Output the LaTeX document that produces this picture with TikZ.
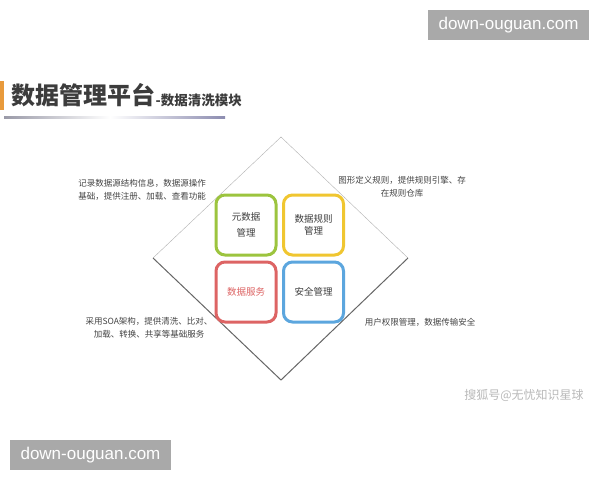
\documentclass[tikz,border=0pt]{standalone}
\usepackage{fontspec}
\setmainfont{Noto Sans CJK SC}
\newfontfamily\wmfont{Liberation Sans}
\usepackage{xcolor}
\usetikzlibrary{calc}

\definecolor{boxgreen}{HTML}{9CC43E}
\definecolor{boxyellow}{HTML}{F0C630}
\definecolor{boxred}{HTML}{DD6464}
\definecolor{boxblue}{HTML}{5CA6DE}
\definecolor{titlegray}{HTML}{3C3C3C}
\definecolor{textgray}{HTML}{444444}
\definecolor{barorange}{HTML}{E89A3C}
\definecolor{wmgray}{HTML}{A9A9A9}
\definecolor{linegray}{HTML}{9A9AA8}
\definecolor{lineblue}{HTML}{8C8CB0}

\begin{document}
\begin{tikzpicture}[x=1pt, y=-1pt]%%cleaning module
        \tikzstyle{module} = [draw, rounded corners=9pt, line width=3pt, minimum width=60pt, minimum height=60pt, align=center, text=titlegray, font=\fontsize{9.5}{12}\selectfont]
        \tikzstyle{note} = [align=center, text=textgray, font=\fontsize{8.5}{13}\selectfont]
        \tikzstyle{wmbox} = [fill=wmgray, text=white, minimum width=161pt, minimum height=30pt, inner sep=0pt, font=\wmfont\fontsize{17}{17}\selectfont]
        \useasboundingbox (0,0) rectangle (600,480);
        \fill[white] (0,0) rectangle (600,480);
        % title
        \fill[barorange] (0,81) rectangle (4,110);
        \shade[left color=linegray, right color=white] (4,116) rectangle (110,118);
        \shade[left color=white, right color=lineblue] (110,116) rectangle (225,118);
        \node[anchor=west, inner sep=0pt, text=titlegray, font=\fontsize{24}{24}\selectfont\bfseries] (title) at (11,95) {数据管理平台};
        \node[anchor=west, inner sep=0pt, text=titlegray, font=\fontsize{13.5}{14}\selectfont\bfseries] (subtitle) at (title.east |- 0,100) {-数据清洗模块};
        % diamond
        \coordinate (top) at (281,137);
        \coordinate (left) at (153,258);
        \coordinate (right) at (408,258);
        \coordinate (bottom) at (281,380);
        \draw[gray!60] (left) -- (top) -- (right);
        \draw[gray!80!black, line width=1pt] (left) -- (bottom) -- (right);
        % modules
        \node [module, draw=boxgreen] (meta) at (246,225) {元数据\\[4pt]管理};
        \node [module, draw=boxyellow] (rule) at (313.5,225) {数据规则\\管理};
        \node [module, draw=boxred, text=boxred] (serv) at (246,292) {数据服务};
        \node [module, draw=boxblue] (safe) at (313.5,292) {安全管理};
        % notes
        \node [note] (metanote) at (142,189.5) {记录数据源结构信息，数据源操作\\基础，提供注册、加载、查看功能};
        \node [note] (rulenote) at (402,186.5) {图形定义规则，提供规则引擎、存\\在规则仓库};
        \node [note] (servnote) at (149,327.5) {采用SOA架构，提供清洗、比对、\\加载、转换、共享等基础服务};
        \node [note] (safenote) at (420,322) {用户权限管理，数据传输安全};
        % watermarks
        \node [wmbox] (wmtop) at (508.5,25) {down-ouguan.com};
        \node [wmbox] (wmbottom) at (90.5,455) {down-ouguan.com};
        \node [text=gray!55, font=\fontsize{12}{12}\selectfont] (sohu) at (524,395) {搜狐号@无忧知识星球};
\end{tikzpicture}
\end{document}
